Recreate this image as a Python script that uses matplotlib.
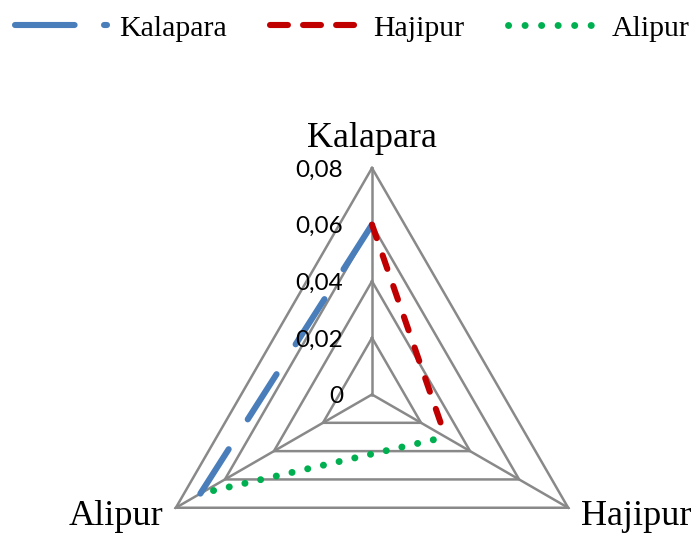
import numpy as np
import matplotlib
matplotlib.use("Agg")
import matplotlib.pyplot as plt
from matplotlib.lines import Line2D

plt.rcParams["lines.scale_dashes"] = False

# Radar axes (clockwise from the top)
categories = ["Kalapara", "Hajipur", "Alipur"]
axis_angles_deg = [90, -30, 210]

# Series values per axis (nan = no value, so no segment is drawn there)
series_names = ["Kalapara", "Hajipur", "Alipur"]
kalapara_vals = [0.06, np.nan, 0.07]
hajipur_vals = [0.06, 0.03, np.nan]
alipur_vals = [np.nan, 0.03, 0.07]

tick_values = [0, 0.02, 0.04, 0.06, 0.08]
tick_labels = ["0", "0,02", "0,04", "0,06", "0,08"]
r_max = tick_values[-1]

W, H, DPI = 694, 536, 100
fig = plt.figure(figsize=(W / DPI, H / DPI), dpi=DPI)
ax = fig.add_axes([0, 0, 1, 1])
ax.axis("off")

# Place the radar centre and outer radius inside the canvas (pixels)
cx, cy, R = 372, 394.5, 226.5
unit = R / r_max
ax.set_xlim(-cx / unit, (W - cx) / unit)
ax.set_ylim(-(H - cy) / unit, cy / unit)

theta = np.deg2rad(axis_angles_deg)


def polar_xy(vals):
    r = np.asarray(vals, dtype=float)
    r = np.append(r, r[0])
    t = np.append(theta, theta[0])
    return r * np.cos(t), r * np.sin(t)


grid_color = "#898989"
for t in tick_values[1:]:
    gx, gy = polar_xy([t] * len(categories))
    ax.plot(gx, gy, color=grid_color, lw=1.8, zorder=1, solid_joinstyle="miter")
for a in theta:
    ax.plot([0, r_max * np.cos(a)], [0, r_max * np.sin(a)],
            color=grid_color, lw=1.8, zorder=1)

blue, red, green = "#4A7EBB", "#C00000", "#00B050"
styles = {
    "Kalapara": dict(color=blue, lw=4.4, linestyle=(0.7, (38.6, 25.5)), zorder=3),
    "Hajipur": dict(color=red, lw=4.4, linestyle=(0, (10.3, 13.1)), zorder=4),
    "Alipur": dict(color=green, lw=5.0, linestyle=(2.6, (0.1, 11.5)), zorder=5),
}
for name, vals in zip(series_names, [kalapara_vals, hajipur_vals, alipur_vals]):
    sx, sy = polar_xy(vals)
    ax.plot(sx, sy, dash_capstyle="round", solid_capstyle="round", **styles[name])

# Radial tick labels along the top axis
for t, lbl in zip(tick_values, tick_labels):
    ax.annotate(lbl, xy=(0, t), xytext=(-20.9, -6.2), textcoords="offset points",
                ha="right", va="baseline", fontsize=17.5, family="Lato", zorder=6)

# Category labels at the outer vertices
serif = "Liberation Serif"
label_offsets = {
    "Kalapara": ((0, 15), "center"),
    "Hajipur": ((9.4, -12.4), "left"),
    "Alipur": ((-9.2, -12.4), "right"),
}
for name, a in zip(categories, theta):
    (dx, dy), ha = label_offsets[name]
    ax.annotate(name, xy=(r_max * np.cos(a), r_max * np.sin(a)), xytext=(dx, dy),
                textcoords="offset points", ha=ha, va="baseline",
                fontsize=26, family=serif)

# Legend keys
legend_handles = [
    Line2D([], [], color=blue, lw=4.4, linestyle=(0, (42.9, 21.2)), dash_capstyle="round"),
    Line2D([], [], color=red, lw=4.4, linestyle=(0, (12.9, 10.9)), dash_capstyle="round"),
    Line2D([], [], color=green, lw=5.0, linestyle=(0, (0.1, 11.8)), dash_capstyle="round"),
]
fs = 21.5
fig.legend(legend_handles, series_names, loc="upper left",
           bbox_to_anchor=(15 / W, 1 - 15 / H), ncol=3, frameon=False,
           prop={"family": serif, "size": fs},
           handlelength=66.2 / fs, handletextpad=8.6 / fs, columnspacing=31.0 / fs,
           borderpad=0, borderaxespad=0)

fig.savefig("out.png", dpi=DPI)
